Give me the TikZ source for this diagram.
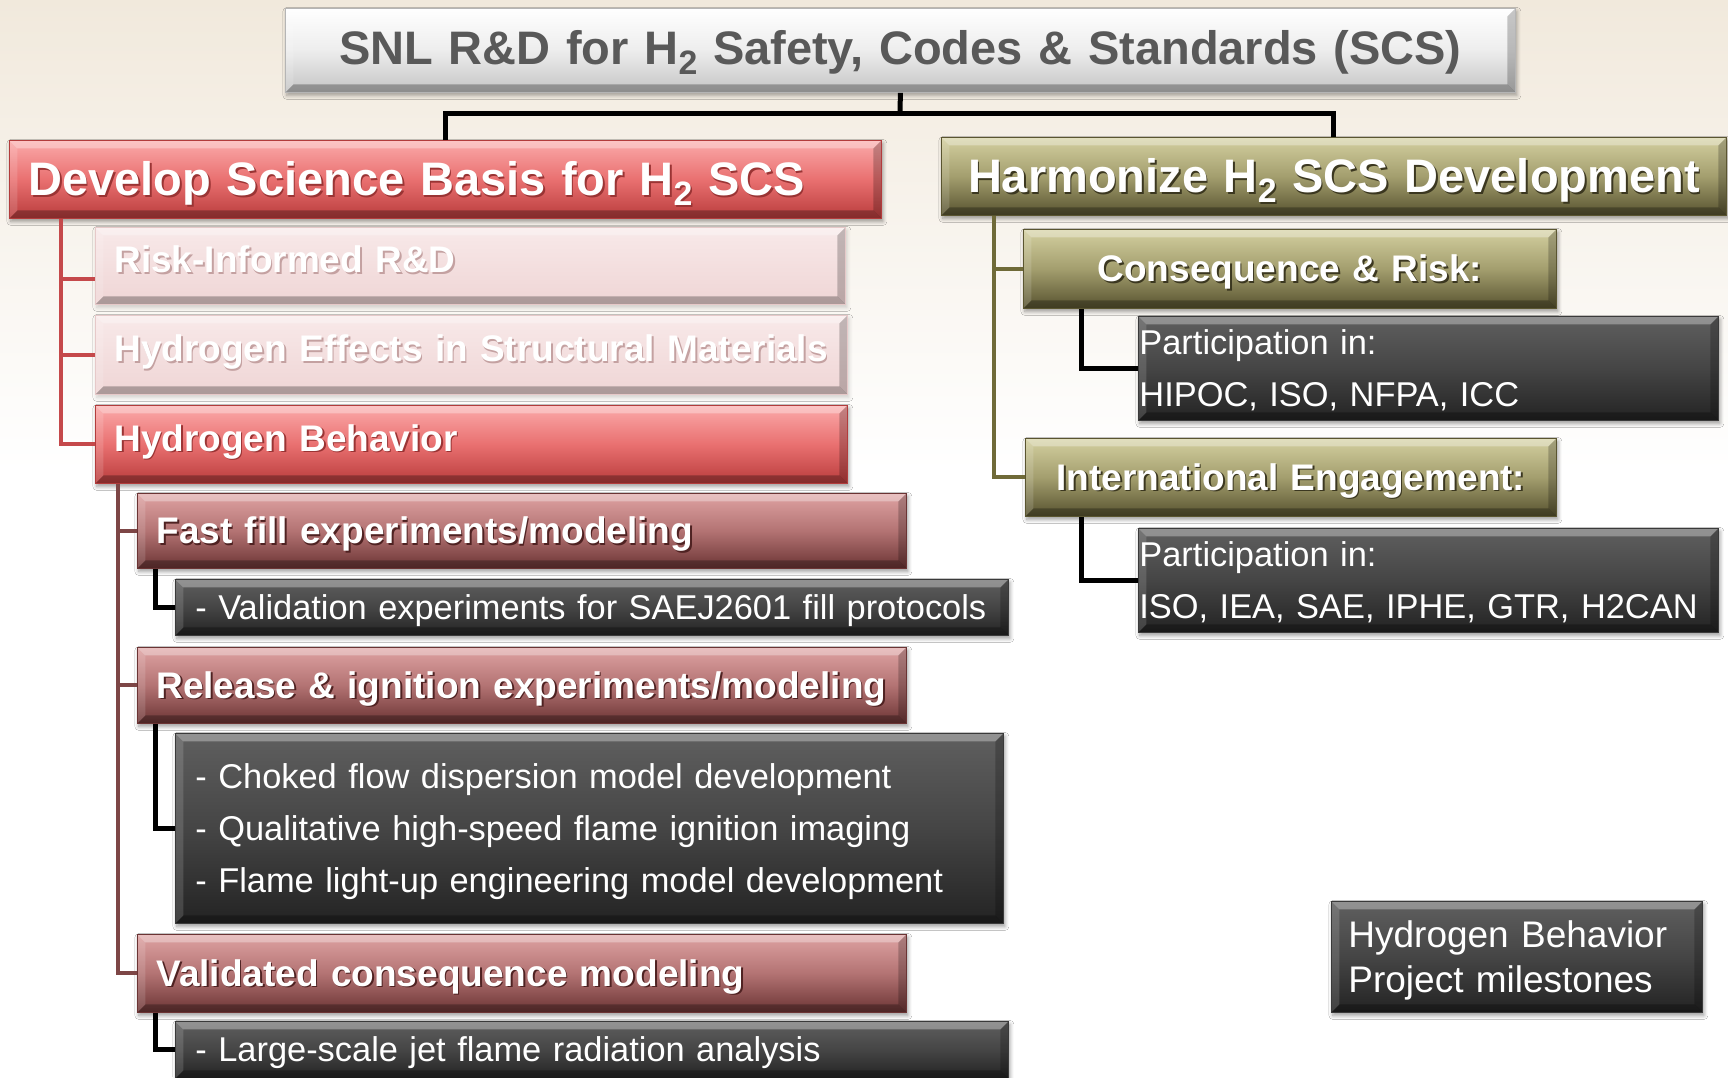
\documentclass[tikz,border=0pt]{standalone}
\usepackage{fontspec}
\setmainfont{Liberation Sans}
\usepackage{graphicx}
\usetikzlibrary{shadows.blur}

% palette
\definecolor{bgtop}{HTML}{F1E9DC}
\definecolor{ttlmid}{HTML}{EDEDED}
\definecolor{ttlbot}{HTML}{C4C4C4}
\definecolor{ttlline}{HTML}{B5B5B5}
\definecolor{ttltxt}{HTML}{595959}
\definecolor{redtop}{HTML}{FBAAAA}
\definecolor{redmid}{HTML}{E97070}
\definecolor{redbot}{HTML}{B93C3C}
\definecolor{redline}{HTML}{B23C3C}
\definecolor{redsh}{HTML}{9A3434}
\definecolor{paletop}{HTML}{F8E9E9}
\definecolor{palebot}{HTML}{EFD5D5}
\definecolor{paleline}{HTML}{E6C9C9}
\definecolor{palesh}{HTML}{C4A1A1}
\definecolor{martop}{HTML}{DFA3A3}
\definecolor{marmid}{HTML}{B37373}
\definecolor{marbot}{HTML}{6B3434}
\definecolor{marline}{HTML}{6B3434}
\definecolor{marsh}{HTML}{4F2222}
\definecolor{dktop}{HTML}{5F5F5F}
\definecolor{dkmid}{HTML}{454545}
\definecolor{dkbot}{HTML}{232323}
\definecolor{dkline}{HTML}{3A3A3A}
\definecolor{oltop}{HTML}{D4D0A0}
\definecolor{olmid}{HTML}{A39E6E}
\definecolor{olbot}{HTML}{57522F}
\definecolor{olline}{HTML}{5A5530}
\definecolor{olsh}{HTML}{3B3720}
\definecolor{rcol}{HTML}{C5494B}
\definecolor{dcol}{HTML}{7D4646}
\definecolor{ocol}{HTML}{6F6A38}

% fonts
\newcommand{\bigb}{\fontsize{47}{57}\selectfont\bfseries}
\newcommand{\midb}{\fontsize{37}{45}\selectfont\bfseries}
\newcommand{\dtxt}{\fontsize{34.4}{52}\selectfont}
\newcommand{\mst}{\fontsize{37}{45}\selectfont}

% line strut: keeps the caps centred in a box; the argument lifts the line
\newcommand{\ppl}[1]{\rule[-\dimexpr0.257em+#1\relax]{0pt}{1.207em}}
\newcommand{\pps}{\ppl{0pt}}
% H with subscript 2
\newcommand{\Hsub}{H\raisebox{-0.21em}{\scalebox{0.72}{2}}}
% text with a soft drop shadow
\newcommand{\shtx}[2]{\leavevmode\rlap{\kern1.6pt\raisebox{-1.6pt}{\textcolor{#1}{#2}}}#2}

\tikzset{
  bevel/.style={path picture={
    \path (path picture bounding box.north west) coordinate (pnw)
          (path picture bounding box.north east) coordinate (pne)
          (path picture bounding box.south west) coordinate (psw)
          (path picture bounding box.south east) coordinate (pse);
    \fill[white,opacity=.32] (pnw) -- (pne) -- ([shift={(-8pt,-8pt)}]pne) -- ([shift={(8pt,-8pt)}]pnw) -- cycle;
    \fill[white,opacity=.14] (pnw) -- ([shift={(8pt,-8pt)}]pnw) -- ([shift={(8pt,8pt)}]psw) -- (psw) -- cycle;
    \fill[black,opacity=.22] (pne) -- (pse) -- ([shift={(-8pt,8pt)}]pse) -- ([shift={(-8pt,-8pt)}]pne) -- cycle;
    \fill[black,opacity=.28] (psw) -- (pse) -- ([shift={(-8pt,8pt)}]pse) -- ([shift={(8pt,8pt)}]psw) -- cycle;
  }},
  bx/.style={anchor=north west, rectangle, inner ysep=0pt, align=left,
    line width=0.8pt, bevel},
  shd/.style={blur shadow={shadow xshift=1.5pt, shadow yshift=-3pt,
    shadow opacity=#1, shadow blur radius=4pt, shadow blur steps=6}},
  ttlbox/.style={bx, shd=35, align=center, inner xsep=0pt, top color=white,
    bottom color=ttlbot, middle color=ttlmid, draw=ttlline, text=ttltxt, font=\bigb},
  redbox/.style={bx, shd=40, top color=redtop, bottom color=redbot,
    middle color=redmid, draw=redline, text=white},
  palebox/.style={bx, shd=18, top color=paletop, bottom color=palebot,
    draw=paleline, text=white},
  marbox/.style={bx, shd=40, top color=martop, bottom color=marbot,
    middle color=marmid, draw=marline, text=white, font=\midb},
  darkbox/.style={bx, shd=40, top color=dktop, bottom color=dkbot,
    middle color=dkmid, draw=dkline, text=white, font=\dtxt},
  olivebox/.style={bx, shd=40, top color=oltop, bottom color=olbot,
    middle color=olmid, draw=olline, text=white},
  blk/.style={draw=black, line width=5pt},
  rln/.style={draw=rcol, line width=4pt},
  dln/.style={draw=dcol, line width=4pt},
  oln/.style={draw=ocol, line width=4pt},
}

\begin{document}
\begin{tikzpicture}[x=1pt,y=-1pt]
\useasboundingbox (0,0) rectangle (1728,1077);

% backdrop
\fill[white] (0,0) rectangle (1728,1077);
\shade[top color=bgtop, bottom color=white] (0,0) rectangle (1728,470);
% warm-up shadow, off the page
\path[shd=10] (-900,-900) rectangle (-800,-800);

% title
\node[ttlbox, minimum height=84pt, text width=1230pt] (title) at (285,8)
  {\ppl{2.5pt}SNL R\&D for \Hsub{} Safety, Codes \& Standards (SCS)};

% main branches
\node[redbox, font=\bigb, minimum height=78pt, inner xsep=19pt, text width=834pt] (dev) at (9,140)
  {\pps\shtx{redsh}{Develop Science Basis for \Hsub{} SCS}};
\node[olivebox, font=\bigb, minimum height=78pt, inner xsep=0pt, text width=785pt, align=center] (harm) at (941,137)
  {\pps\shtx{olsh}{Harmonize \Hsub{} SCS Development}};

% left branch
\node[palebox, font=\midb, minimum height=77pt, inner xsep=19pt, text width=712pt] (risk) at (95,227)
  {\ppl{6pt}\shtx{palesh}{Risk-Informed R\&D}};
\node[palebox, font=\midb, minimum height=79pt, inner xsep=19pt, text width=714pt] (eff) at (95,315)
  {\ppl{6pt}\shtx{palesh}{Hydrogen Effects in Structural Materials}};
\node[redbox, font=\midb, minimum height=78pt, inner xsep=19pt, text width=714pt] (beh) at (95,405)
  {\ppl{6pt}\shtx{redsh}{Hydrogen Behavior}};

\node[marbox, minimum height=75pt, inner xsep=19pt, text width=731pt] (fast) at (137,493)
  {\pps\shtx{marsh}{Fast fill experiments/modeling}};
\node[darkbox, minimum height=56pt, inner xsep=10pt, text width=813pt] (val) at (175,579)
  {\pps\hspace*{10pt}- Validation experiments for SAEJ2601 fill protocols};
\node[marbox, minimum height=76pt, inner xsep=19pt, text width=731pt] (rel) at (137,647)
  {\pps\shtx{marsh}{Release \& ignition experiments/modeling}};
\node[darkbox, minimum height=190pt, inner xsep=20pt, text width=788pt] (choke) at (175,733)
  {\pps - Choked flow dispersion model development\\
   \pps - Qualitative high-speed flame ignition imaging\\
   \pps - Flame light-up engineering model development};
\node[marbox, minimum height=78pt, inner xsep=19pt, text width=731pt] (vcm) at (137,934)
  {\pps\shtx{marsh}{Validated consequence modeling}};
\node[darkbox, minimum height=57pt, inner xsep=10pt, text width=813pt] (large) at (175,1021)
  {\pps\hspace*{10pt}- Large-scale jet flame radiation analysis};

% right branch
\node[olivebox, font=\midb, minimum height=79pt, inner xsep=0pt, text width=533pt, align=center] (cons) at (1023,229)
  {\pps\shtx{olsh}{Consequence \& Risk:}};
\node[darkbox, minimum height=104pt, inner xsep=1pt, text width=578pt] (part1) at (1138,316)
  {\pps Participation in:\\ \pps HIPOC, ISO, NFPA, ICC};
\node[olivebox, font=\midb, minimum height=78pt, inner xsep=0pt, text width=531pt, align=center] (intl) at (1025,438)
  {\pps\shtx{olsh}{International Engagement:}};
\node[darkbox, minimum height=104pt, inner xsep=1pt, text width=578pt] (part2) at (1138,528)
  {\pps Participation in:\\ \pps ISO, IEA, SAE, IPHE, GTR, H2CAN};

% legend box
\node[darkbox, font=\mst, minimum height=111pt, inner xsep=17pt, text width=337pt] (mile) at (1331,901)
  {\pps Hydrogen Behavior\\ \pps Project milestones};

% connectors: columns of the trunks and the title junction
\coordinate (jn) at (900,113);
\coordinate (rx) at (61,0);
\coordinate (dx) at (118,0);
\coordinate (lx) at (155,0);
\coordinate (ox) at (994,0);
\coordinate (px) at (1081,0);
\coordinate (rk) at ([yshift=-13.5pt]risk.west);

\draw[blk] (title.south) -- (jn);
\draw[blk] (dev.north) |- (jn) -| (harm.north);

\draw[rln] (dev.south -| rx) |- (beh.west);
\draw[rln] (rk -| rx) -- (rk);
\draw[rln] (eff.west -| rx) -- (eff.west);

\draw[dln] (beh.south -| dx) |- (vcm.west);
\draw[dln] (fast.west -| dx) -- (fast.west);
\draw[dln] (rel.west -| dx) -- (rel.west);

\draw[blk] (fast.south -| lx) |- (val.west);
\draw[blk] (rel.south -| lx) |- (choke.west);
\draw[blk] (vcm.south -| lx) |- (large.west);

\draw[oln] (harm.south -| ox) |- (intl.west);
\draw[oln] (cons.west -| ox) -- (cons.west);

\draw[blk] (cons.south -| px) |- (part1.west);
\draw[blk] (intl.south -| px) |- (part2.west);
\end{tikzpicture}
\end{document}
